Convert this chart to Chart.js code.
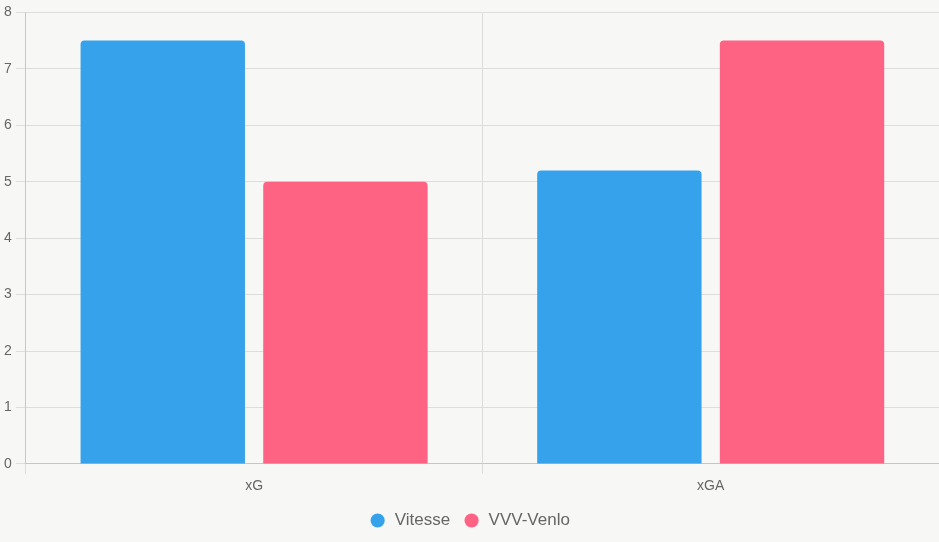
<!DOCTYPE html>
<html lang="en">
<head>
    <meta charset="UTF-8">
    <title>xG vs xGA</title>
    <script src="https://cdn.jsdelivr.net/npm/chart.js"></script>
    <style>
        html, body {
            margin: 0;
            padding: 0;
            background: #f7f7f5;
        }
        .chart-box {
            width: 939px;
            height: 542px;
        }
    </style>
</head>
<body>
    <div class="chart-box">
        <canvas id="xgChart"></canvas>
    </div>
    <script>
        // Data
        const categories = ['xG', 'xGA'];
        const vitesseValues = [7.5, 5.2];
        const venloValues = [5.0, 7.5];
        const teamNames = ['Vitesse', 'VVV-Venlo'];

        Chart.defaults.font.family = "'Liberation Sans', Arial, Helvetica, sans-serif";
        Chart.defaults.color = '#666';

        const ctx = document.getElementById('xgChart').getContext('2d');
        new Chart(ctx, {
            type: 'bar',
            data: {
                labels: categories,
                datasets: [
                    {
                        label: teamNames[0],
                        data: vitesseValues,
                        backgroundColor: '#36a2eb',
                        borderRadius: 4,
                        borderSkipped: 'bottom'
                    },
                    {
                        label: teamNames[1],
                        data: venloValues,
                        backgroundColor: '#ff6384',
                        borderRadius: 4,
                        borderSkipped: 'bottom'
                    }
                ]
            },
            options: {
                responsive: true,
                maintainAspectRatio: false,
                animation: false,
                layout: {
                    padding: { top: 5, right: 0, left: 0, bottom: 3 }
                },
                plugins: {
                    legend: {
                        position: 'bottom',
                        labels: {
                            usePointStyle: true,
                            pointStyle: 'circle',
                            boxHeight: 10,
                            padding: 13,
                            font: { size: 17 },
                            color: '#666'
                        }
                    },
                    tooltip: { enabled: false }
                },
                scales: {
                    x: {
                        grid: { color: '#ddd', tickLength: 10 },
                        ticks: { padding: 8, font: { size: 14, lineHeight: 0.65 }, color: '#666' }
                    },
                    y: {
                        min: 0,
                        max: 8,
                        grid: { color: '#ddd', tickLength: 10 },
                        ticks: { stepSize: 1, padding: 4, font: { size: 14 }, color: '#666' }
                    }
                }
            }
        });
    </script>
</body>
</html>
